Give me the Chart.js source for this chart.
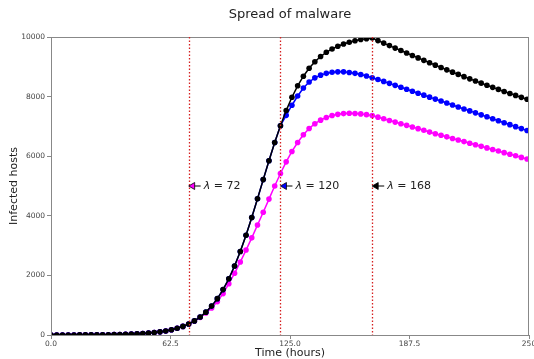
<!DOCTYPE html>
<html>
<head>
<meta charset="utf-8">
<script src="https://cdn.jsdelivr.net/npm/chart.js@4.4.0/dist/chart.umd.min.js"></script>
<style>
  html, body { margin: 0; padding: 0; background: #fff; }
  canvas { display: block; }
</style>
</head>
<body>
<canvas id="malwareChart" width="534" height="359"></canvas>
<script>
// sample times (hours)
const hours = [
  0, 3, 6, 9, 12, 15, 18, 21, 24, 27,
  30, 33, 36, 39, 42, 45, 48, 51, 54, 57,
  60, 63, 66, 69, 72, 75, 78, 81, 84, 87,
  90, 93, 96, 99, 102, 105, 108, 111, 114, 117,
  120, 123, 126, 129, 132, 135, 138, 141, 144, 147,
  150, 153, 156, 159, 162, 165, 168, 171, 174, 177,
  180, 183, 186, 189, 192, 195, 198, 201, 204, 207,
  210, 213, 216, 219, 222, 225, 228, 231, 234, 237,
  240, 243, 246, 249
];

// infected hosts, patch released at lambda = 168
const infected168 = [
  1, 1, 1, 2, 2, 3, 4, 5, 6, 8,
  10, 13, 17, 23, 29, 38, 49, 63, 81, 105,
  135, 174, 224, 288, 370, 473, 603, 767, 970, 1220,
  1524, 1887, 2313, 2801, 3349, 3943, 4572, 5214, 5848, 6460,
  7022, 7530, 7978, 8362, 8685, 8952, 9170, 9347, 9487, 9599,
  9690, 9765, 9825, 9875, 9915, 9945, 9965, 9880, 9796, 9712,
  9628, 9545, 9462, 9380, 9298, 9216, 9135, 9055, 8976, 8898,
  8821, 8745, 8670, 8596, 8523, 8451, 8380, 8310, 8241, 8173,
  8106, 8040, 7975, 7911
];

// patch released at lambda = 120
const infected120 = [
  1, 1, 1, 2, 2, 3, 4, 5, 6, 8,
  10, 13, 17, 23, 29, 38, 49, 63, 81, 105,
  135, 174, 224, 288, 370, 473, 603, 767, 970, 1220,
  1524, 1887, 2313, 2801, 3349, 3943, 4572, 5214, 5848, 6460,
  7022, 7370, 7710, 8020, 8290, 8490, 8630, 8720, 8780, 8815,
  8830, 8830, 8810, 8780, 8740, 8690, 8635, 8575, 8510, 8445,
  8378, 8312, 8246, 8180, 8114, 8048, 7982, 7916, 7850, 7784,
  7718, 7652, 7586, 7520, 7454, 7388, 7322, 7256, 7190, 7124,
  7058, 6992, 6926, 6860
];

// patch released at lambda = 72
const infected72 = [
  1, 1, 1, 2, 2, 3, 4, 5, 6, 8,
  10, 13, 17, 23, 29, 38, 49, 63, 81, 105,
  135, 174, 224, 288, 370, 468, 590, 738, 910, 1120,
  1390, 1720, 2070, 2450, 2850, 3260, 3690, 4120, 4560, 5000,
  5420, 5810, 6160, 6460, 6720, 6930, 7090, 7210, 7300, 7365,
  7405, 7430, 7440, 7435, 7420, 7395, 7365, 7310, 7255, 7200,
  7145, 7090, 7035, 6980, 6925, 6870, 6808, 6755, 6702, 6649,
  6596, 6543, 6490, 6437, 6384, 6331, 6278, 6225, 6172, 6119,
  6066, 6013, 5960, 5907
];

const patchTimes = [72, 120, 168];
const patchColors = ['#ff00ff', '#0000ff', '#000000'];
const labelLevel = 5000;

const xTicks = [0, 62.5, 125, 187.5, 250];
const xTickLabels = ['0.0', '62.5', '125.0', '187.5', '250'];

const FONT = '"DejaVu Sans", "Liberation Sans", sans-serif';

function toPoints(values) {
  return values.map((v, i) => ({ x: hours[i], y: v }));
}

function series(values, color) {
  return {
    data: toPoints(values),
    borderColor: color,
    backgroundColor: color,
    borderWidth: 1.5,
    pointRadius: 2.8,
    pointBorderWidth: 0,
    pointBackgroundColor: color,
    tension: 0
  };
}

const overlay = {
  id: 'overlay',
  afterDatasetsDraw(chart) {
    const { ctx, chartArea: a, scales: { x, y } } = chart;
    ctx.save();

    // frame
    ctx.strokeStyle = '#888';
    ctx.lineWidth = 1;
    ctx.strokeRect(a.left + 0.5, a.top + 0.5, a.right - a.left - 1, a.bottom - a.top);

    // patch release lines
    ctx.strokeStyle = '#d62020';
    ctx.lineWidth = 1.3;
    ctx.setLineDash([1.5, 2]);
    patchTimes.forEach(t => {
      const px = Math.round(x.getPixelForValue(t)) + 0.5;
      ctx.beginPath();
      ctx.moveTo(px, a.top);
      ctx.lineTo(px, a.bottom);
      ctx.stroke();
    });
    ctx.setLineDash([]);

    // arrows + labels
    const py = y.getPixelForValue(labelLevel);
    patchTimes.forEach((t, i) => {
      const px = x.getPixelForValue(t);
      ctx.strokeStyle = '#000';
      ctx.lineWidth = 1;
      ctx.beginPath();
      ctx.moveTo(px + 5, py);
      ctx.lineTo(px + 12, py);
      ctx.stroke();
      ctx.fillStyle = patchColors[i];
      ctx.beginPath();
      ctx.moveTo(px, py);
      ctx.lineTo(px + 6, py - 3.5);
      ctx.lineTo(px + 6, py + 3.5);
      ctx.closePath();
      ctx.fill();
      ctx.lineWidth = 0.8;
      ctx.stroke();

      ctx.fillStyle = '#222';
      ctx.textBaseline = 'middle';
      ctx.textAlign = 'left';
      ctx.font = 'italic 11px ' + FONT;
      const lx = px + 15;
      ctx.fillText('\u03bb', lx, py);
      const w = ctx.measureText('\u03bb').width;
      ctx.font = '11px ' + FONT;
      ctx.fillText(' = ' + t, lx + w, py);
    });

    // title
    ctx.fillStyle = '#222';
    ctx.textAlign = 'center';
    ctx.textBaseline = 'middle';
    ctx.font = '13px ' + FONT;
    ctx.fillText('Spread of malware', (a.left + a.right) / 2, 15);
    ctx.restore();
  }
};

new Chart(document.getElementById('malwareChart'), {
  type: 'line',
  data: {
    datasets: [
      series(infected168, patchColors[2]),
      series(infected120, patchColors[1]),
      series(infected72, patchColors[0])
    ]
  },
  options: {
    responsive: false,
    animation: false,
    devicePixelRatio: 1,
    layout: { padding: { top: 37, right: 5, left: 0, bottom: 0 } },
    plugins: { legend: { display: false }, tooltip: { enabled: false } },
    scales: {
      x: {
        type: 'linear',
        min: 0,
        max: 250,
        afterBuildTicks: s => { s.ticks = xTicks.map(v => ({ value: v })); },
        afterFit: s => { s.height = 24; s.paddingLeft = 0; s.paddingRight = 0; },
        ticks: {
          callback: (v, i) => xTickLabels[i],
          font: { size: 7.5, family: FONT },
          color: '#444',
          padding: 1,
          maxRotation: 0
        },
        grid: { display: true, drawOnChartArea: false, drawTicks: true, tickLength: 4, color: '#888' },
        border: { display: true, color: '#888' },
        title: {
          display: true,
          text: 'Time (hours)',
          font: { size: 11, family: FONT },
          color: '#222',
          padding: { top: 0, bottom: -1 }
        }
      },
      y: {
        type: 'linear',
        min: 0,
        max: 10000,
        afterFit: s => { s.width = 51; },
        ticks: {
          stepSize: 2000,
          callback: v => String(v),
          font: { size: 7.5, family: FONT },
          color: '#444',
          padding: 2
        },
        grid: { display: true, drawOnChartArea: false, drawTicks: true, tickLength: 4, color: '#888' },
        border: { display: true, color: '#888' },
        title: {
          display: true,
          text: 'Infected hosts',
          font: { size: 11, family: FONT },
          color: '#222',
          padding: { top: 8, bottom: 0 }
        }
      }
    }
  },
  plugins: [overlay]
});
</script>
</body>
</html>
